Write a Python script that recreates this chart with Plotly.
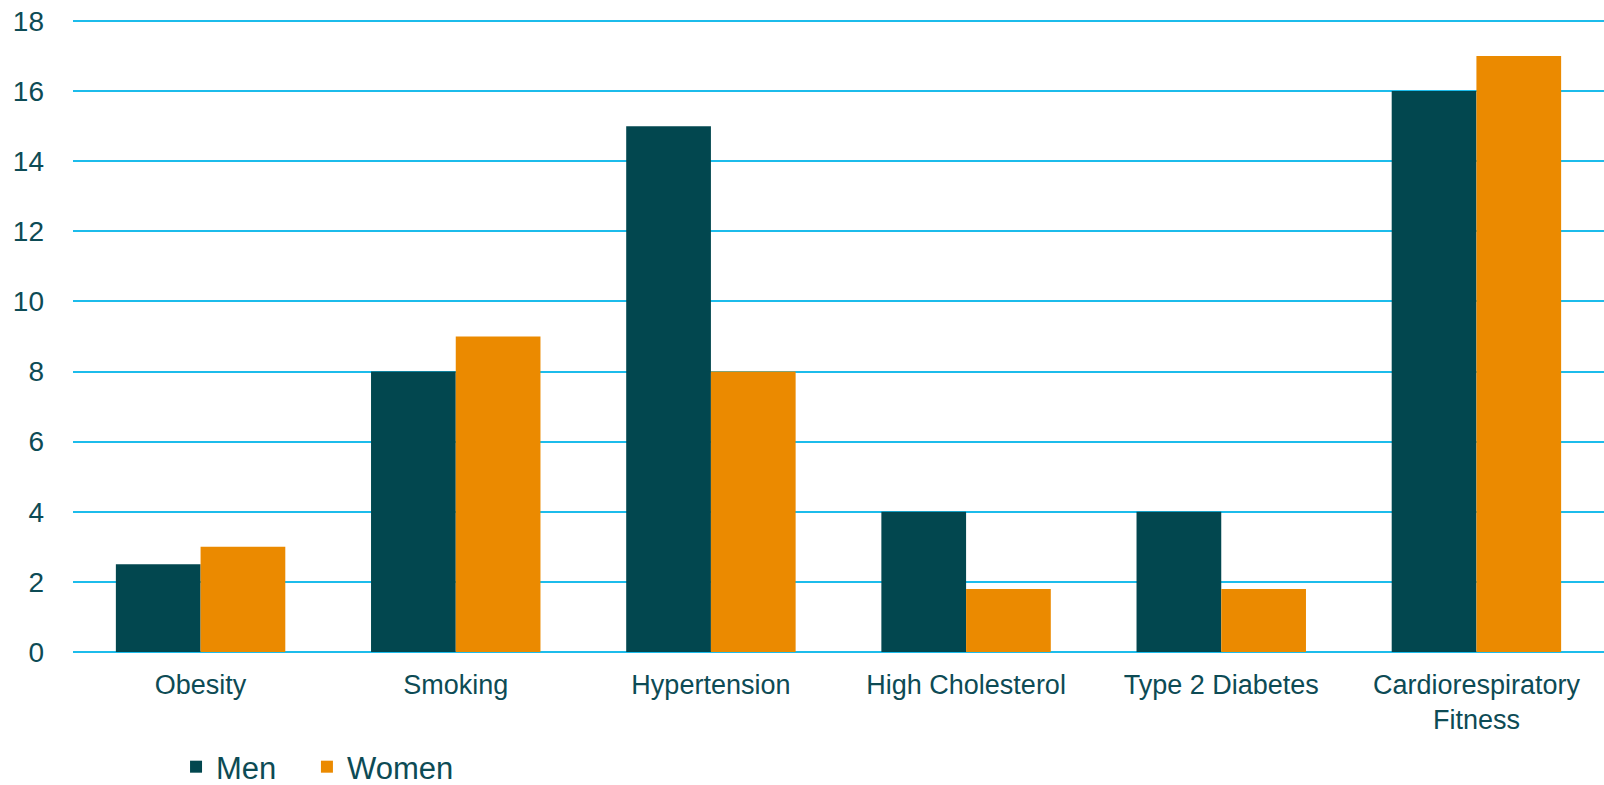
import plotly.graph_objects as go

categories = ["Obesity", "Smoking", "Hypertension", "High Cholesterol", "Type 2 Diabetes", "Cardiorespiratory<br>Fitness"]
men = [2.5, 8, 15, 4, 4, 16]
women = [3, 9, 8, 1.8, 1.8, 17]
y_ticks = [0, 2, 4, 6, 8, 10, 12, 14, 16, 18]

TEXT = "#0D4B55"
GRID = "#1CBCEB"

fig = go.Figure()
fig.add_trace(go.Bar(name="Men", x=categories, y=men, legend="legend",
                     marker=dict(color="#02474F", line=dict(width=0))))
fig.add_trace(go.Bar(name="Women", x=categories, y=women, legend="legend2",
                     marker=dict(color="#EB8A00", line=dict(width=0))))

leg_common = dict(orientation="h", xanchor="left", y=-0.138, yanchor="top",
                  font=dict(size=31, color=TEXT), bgcolor="rgba(0,0,0,0)")

fig.update_layout(
    width=1604, height=785,
    margin=dict(l=73, r=0, t=14, b=133, autoexpand=False),
    paper_bgcolor="white", plot_bgcolor="white",
    barmode="group", bargap=0.336, bargroupgap=0,
    font=dict(family="Liberation Sans, Arial, sans-serif", color=TEXT, size=28),
    showlegend=True,
    legend=dict(x=0.0673, **leg_common),
    legend2=dict(x=0.1528, **leg_common),
    xaxis=dict(showgrid=False, showline=False, ticks="", tickfont=dict(size=27),
               ticklabelstandoff=14, automargin=False),
    yaxis=dict(range=[0, 18.2], tickvals=y_ticks, showgrid=True, gridcolor=GRID, gridwidth=2,
               zeroline=True, zerolinecolor=GRID, zerolinewidth=2, showline=False,
               tickfont=dict(size=28), ticklabelstandoff=28, automargin=False),
)

fig.write_html("out.html")
